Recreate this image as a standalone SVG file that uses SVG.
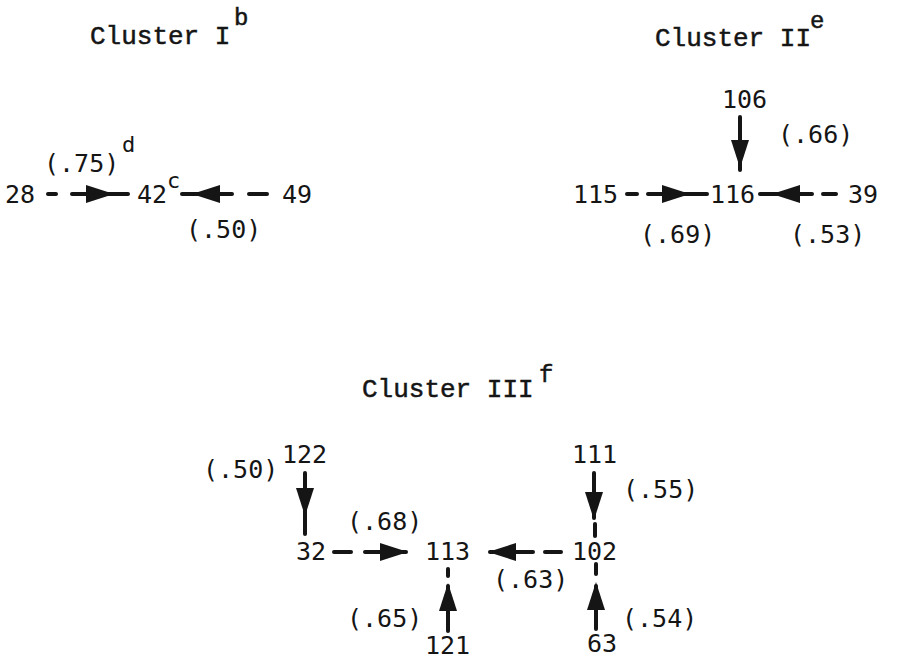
<svg xmlns="http://www.w3.org/2000/svg" xmlns:xlink="http://www.w3.org/1999/xlink" width="912" height="661" viewBox="0 0 912 661">
  <style>
    .title { font-family: "Liberation Mono", "Courier New", monospace; font-size: 26px; fill: #151515; stroke: #151515; stroke-width: 0.5px; }
    .sup { font-family: "Liberation Mono", "Courier New", monospace; font-size: 24px; fill: #151515; stroke: #151515; stroke-width: 0.5px; }
    .num { font-family: "DejaVu Sans Mono", monospace; font-size: 25px; fill: #151515; }
    .lbl { font-family: "DejaVu Sans Mono", monospace; font-size: 25px; fill: #151515; }
    .nsup { font-family: "DejaVu Sans Mono", monospace; font-size: 22px; fill: #151515; }
    .ln { stroke: #151515; stroke-width: 4; stroke-linecap: round; fill: none; }
    .hd { fill: #151515; }
  </style>
  <defs>
    <!-- arrowhead pointing right, tip at the origin -->
    <path id="head" d="M0,0 L-28,-9 L-28,9 Z"/>
  </defs>
  <rect width="912" height="661" fill="#ffffff"/>

  <!-- titles -->
  <text class="title" x="90" y="44">Cluster I</text>
  <text class="sup" x="234" y="25">b</text>
  <text class="title" x="655" y="46">Cluster II</text>
  <text class="sup" x="810" y="28">e</text>
  <text class="title" x="362" y="397">Cluster III</text>
  <text class="sup" x="539" y="382">f</text>

  <!-- Cluster I nodes -->
  <g id="n28"><text class="num" x="5" y="203">28</text></g>
  <g id="n42"><text class="num" x="137" y="203">42</text><text class="nsup" x="167" y="188">c</text></g>
  <g id="n49"><text class="num" x="282" y="203">49</text></g>

  <!-- Cluster II nodes -->
  <g id="n106"><text class="num" x="722" y="108">106</text></g>
  <g id="n115"><text class="num" x="573" y="203">115</text></g>
  <g id="n116"><text class="num" x="710" y="203">116</text></g>
  <g id="n39"><text class="num" x="848" y="203">39</text></g>

  <!-- Cluster III nodes -->
  <g id="n122"><text class="num" x="282" y="463">122</text></g>
  <g id="n32"><text class="num" x="296" y="560">32</text></g>
  <g id="n113"><text class="num" x="425" y="560">113</text></g>
  <g id="n121"><text class="num" x="425" y="654">121</text></g>
  <g id="n111"><text class="num" x="572" y="463">111</text></g>
  <g id="n102"><text class="num" x="572" y="560">102</text></g>
  <g id="n63"><text class="num" x="587" y="652">63</text></g>

  <!-- connectors with their weights -->
  <g id="edges">
    <!-- 28 -> 42 -->
    <line class="ln" x1="48" y1="194" x2="56" y2="194"/>
    <line class="ln" x1="72" y1="194" x2="128" y2="194"/>
    <use xlink:href="#head" class="hd" transform="translate(114,194)"/>
    <text class="lbl" x="44" y="172">(.75)</text>
    <text class="nsup" x="122" y="152">d</text>
    <!-- 49 -> 42 -->
    <line class="ln" x1="182" y1="194" x2="232" y2="194"/>
    <use xlink:href="#head" class="hd" transform="translate(192,194) rotate(180)"/>
    <line class="ln" x1="249" y1="194" x2="267" y2="194"/>
    <text class="lbl" x="186" y="238">(.50)</text>

    <!-- 106 -> 116 -->
    <line class="ln" x1="740" y1="117" x2="740" y2="170"/>
    <use xlink:href="#head" class="hd" transform="translate(740,168) rotate(90)"/>
    <text class="lbl" x="778" y="143">(.66)</text>
    <!-- 115 -> 116 -->
    <line class="ln" x1="627" y1="194" x2="637" y2="194"/>
    <line class="ln" x1="648" y1="194" x2="707" y2="194"/>
    <use xlink:href="#head" class="hd" transform="translate(690,194)"/>
    <text class="lbl" x="640" y="243">(.69)</text>
    <!-- 39 -> 116 -->
    <line class="ln" x1="760" y1="194" x2="812" y2="194"/>
    <use xlink:href="#head" class="hd" transform="translate(772,194) rotate(180)"/>
    <line class="ln" x1="823" y1="194" x2="836" y2="194"/>
    <text class="lbl" x="790" y="243">(.53)</text>

    <!-- 122 -> 32 -->
    <line class="ln" x1="305" y1="473" x2="305" y2="534"/>
    <use xlink:href="#head" class="hd" transform="translate(305,516) rotate(90)"/>
    <text class="lbl" x="203" y="478">(.50)</text>
    <!-- 32 -> 113 -->
    <line class="ln" x1="334" y1="552" x2="351" y2="552"/>
    <line class="ln" x1="365" y1="552" x2="406" y2="552"/>
    <use xlink:href="#head" class="hd" transform="translate(408,552)"/>
    <text class="lbl" x="347" y="530">(.68)</text>
    <!-- 121 -> 113 -->
    <line class="ln" x1="448" y1="569" x2="448" y2="576"/>
    <line class="ln" x1="448" y1="586" x2="448" y2="631"/>
    <use xlink:href="#head" class="hd" transform="translate(448,583) rotate(-90)"/>
    <text class="lbl" x="347" y="627">(.65)</text>
    <!-- 102 -> 113 -->
    <line class="ln" x1="490" y1="552" x2="533" y2="552"/>
    <use xlink:href="#head" class="hd" transform="translate(488,552) rotate(180)"/>
    <line class="ln" x1="545" y1="552" x2="561" y2="552"/>
    <text class="lbl" x="493" y="588">(.63)</text>
    <!-- 111 -> 102 -->
    <line class="ln" x1="594" y1="473" x2="594" y2="518"/>
    <use xlink:href="#head" class="hd" transform="translate(594,520) rotate(90)"/>
    <line class="ln" x1="595" y1="524" x2="595" y2="536"/>
    <text class="lbl" x="623" y="498">(.55)</text>
    <!-- 63 -> 102 -->
    <line class="ln" x1="596" y1="564" x2="596" y2="574"/>
    <line class="ln" x1="596" y1="586" x2="596" y2="629"/>
    <use xlink:href="#head" class="hd" transform="translate(596,582) rotate(-90)"/>
    <text class="lbl" x="622" y="627">(.54)</text>
  </g>
</svg>
